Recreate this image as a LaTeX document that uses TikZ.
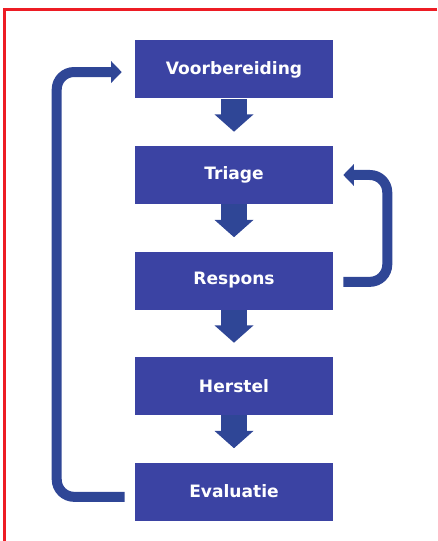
\documentclass[tikz,border=0pt]{standalone}
\usepackage{fontspec}
\setsansfont{DejaVu Sans}
\usepackage{xcolor}
\usepackage{tikz}
\usetikzlibrary{arrows.meta}
\definecolor{stapblauw}{RGB}{59,67,163}
\definecolor{pijlblauw}{RGB}{47,70,150}
\definecolor{kaderrood}{RGB}{237,28,36}

\begin{document}
\begin{tikzpicture}[x=0.75pt,y=-0.75pt,
  stap/.style={fill=stapblauw,text=white,minimum width=148.5pt,minimum height=43.5pt,
    inner sep=0pt,font=\sffamily\bfseries\fontsize{12.8}{15}\selectfont},
  doorpijl/.style={draw=pijlblauw,line width=20pt,
    -{Triangle[width=28.5pt,length=13pt]},shorten >=10.5pt},
  terugpijl/.style={draw=pijlblauw,line width=7.5pt,rounded corners=13pt,
    -{Triangle[width=16pt,length=8pt]}}]
\useasboundingbox (0,0) rectangle (437,541);
\draw[kaderrood,line width=2pt] (437,9.7) -| (4.5,541);
% stappen
\node[stap] (voor) at (234,69.5) {Voorbereiding};
\node[stap] (triage) at (234,175) {Triage};
\node[stap] (resp) at (234,280.5) {Respons};
\node[stap] (herstel) at (234,386) {Herstel};
\node[stap] (eval) at (234,491.5) {Evaluatie};
\draw[doorpijl] (voor) -- (triage);
\draw[doorpijl] (triage) -- (resp);
\draw[doorpijl] (resp) -- (herstel);
\draw[doorpijl] (herstel) -- (eval);
% terugkoppeling
\draw[terugpijl,shorten <=7.5pt,shorten >=9.75pt] ([yshift=-4pt]eval.west) -- ++(-78,0) |- ([yshift=-1.9pt]voor.west);
\draw[terugpijl,shorten <=7.5pt,shorten >=7.5pt] ([yshift=-1pt]resp.east) -- ++(54,0) |- (triage.east);
\end{tikzpicture}
\end{document}
